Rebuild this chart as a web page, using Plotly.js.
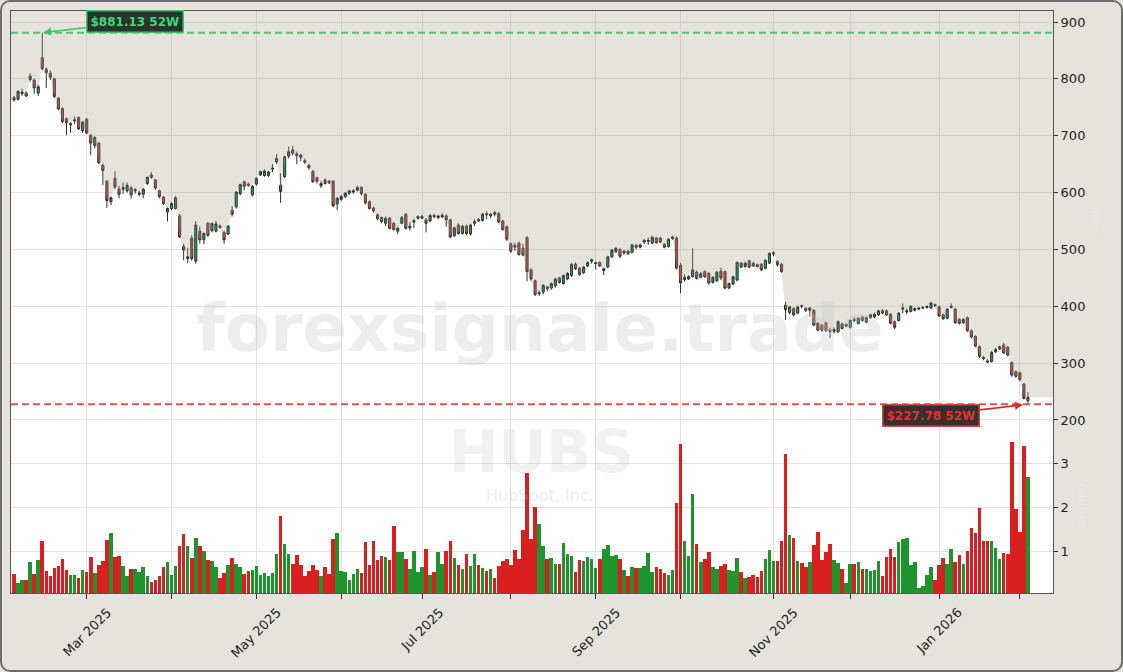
<!DOCTYPE html>
<html>
<head>
<meta charset="utf-8">
<script src="https://cdn.plot.ly/plotly-3.0.1.min.js"></script>
<style>
  html, body { margin: 0; padding: 0; background: #e6e3dd; }
  #wrap { position: relative; width: 1123px; height: 672px; overflow: hidden; }
  #chart { position: absolute; left: 0; top: 0; width: 1123px; height: 672px; }
  #frame { position: absolute; left: 0; top: 0; width: 1123px; height: 672px; box-sizing: border-box;
           border: 2px solid #6e6e6e; border-radius: 10px; pointer-events: none; }
</style>
</head>
<body>
<div id="wrap"><div id="chart"></div><div id="frame"></div></div>
<script>
// ---------------- DATA (HUBS daily, Feb 2025 - Feb 2026) ----------------
const symbol = "HUBS";
const companyName = "HubSpot, Inc.";
const firstDay = "2025-02-04";
const lastDay = "2026-02-04";
const marketHolidays = ["2025-02-17","2025-04-18","2025-05-26","2025-06-19","2025-07-04",
  "2025-09-01","2025-11-27","2025-12-25","2026-01-01","2026-01-19"];

const openPx = [
  767,764,774,775,799,798,775,837,817,810,
  800,766,748,730,719,726,732,709,729,700,
  683,687,648,620,584,625,606,606,603,608,
  603,597,597,616,631,622,603,592,566,572,
  572,559,505,484,520,479,532,517,546,533,
  532,541,530,527,569,575,598,619,615,596,
  615,631,630,630,641,654,613,628,664,675,
  668,666,656,648,637,626,612,622,620,620,
  580,588,593,599,601,604,609,597,584,573,
  561,556,546,555,546,532,546,562,538,548,
  555,555,552,550,560,556,557,559,552,524,
  543,528,541,527,546,553,551,563,559,565,
  563,550,540,510,507,511,502,521,464,445,
  422,425,434,432,436,450,440,448,454,474,
  467,459,471,479,475,477,463,469,487,496,
  500,494,497,495,507,504,513,514,511,520,
  520,509,505,519,520,472,447,448,452,460,
  451,461,458,442,445,462,461,432,439,446,
  476,470,480,476,473,474,467,476,492,479,
  474,402,389,396,388,401,396,393,393,370,
  367,371,358,356,355,369,365,363,377,370,
  381,372,380,381,385,392,392,386,373,375,
  395,390,391,393,395,397,398,397,403,399,
  385,379,398,395,377,371,380,357,347,329,
  310,304,303,320,325,332,328,301,285,283,
  263,234];
const highPx = [
  770,780,783,778,810,800,790,881.13,820,815,
  802,768,750,732,724,734,734,726,731,703,
  699,689,651,622,593,637,612,618,618,612,
  608,603,608,628,636,624,605,594,574,583,
  594,562,510,503,525,550,540,530,548,547,
  550,544,533,543,576,603,616,621,618,613,
  627,639,641,638,650,668,634,665,681,682,
  672,668,660,650,640,628,620,625,622,622,
  592,596,601,605,606,612,611,599,586,575,
  563,558,558,557,548,540,559,564,548,554,
  560,561,555,562,563,561,564,562,554,540,
  546,543,544,545,553,555,564,567,564,568,
  566,552,542,512,512,514,510,523,467,447,
  428,439,436,442,450,452,456,460,476,477,
  469,471,479,484,478,479,468,489,501,504,
  502,499,499,510,510,510,518,521,524,522,
  522,511,520,524,523,476,456,455,502,463,
  460,463,460,453,462,468,463,442,454,479,
  478,478,482,478,475,476,483,495,497,481,
  476,408,401,398,401,403,398,399,395,372,
  369,373,362,363,375,371,370,377,381,381,
  383,382,387,389,394,395,394,388,375,390,
  405,396,402,398,398,400,401,408,405,401,
  387,397,405,397,379,379,382,359,349,331,
  313,307,321,327,331,336,330,303,287,285,
  265,249];
const lowPx = [
  760,762,770,768,795,774,770,815,784,798,
  766,745,722,701,705,720,710,705,703,666,
  678,650,613,573,578,606,590,598,600,590,
  598,594,590,613,624,605,590,578,549,569,
  570,520,481,476,480,475,510,509,522,530,
  530,536,510,525,558,572,595,604,610,593,
  612,629,628,627,636,650,582,625,660,665,
  650,655,650,640,617,616,608,614,615,574,
  569,585,590,596,598,602,595,579,570,565,
  551,546,541,535,533,527,544,535,533,538,
  552,553,530,548,555,553,555,540,520,522,
  526,526,525,525,541,548,549,553,555,558,
  546,533,515,494,497,489,488,444,445,418,
  418,421,427,429,433,440,438,446,452,464,
  454,457,469,475,465,469,455,467,485,494,
  485,491,490,493,500,502,510,508,509,510,
  511,502,503,517,465,423,443,446,450,447,
  449,450,438,440,443,446,430,430,437,444,
  467,468,467,469,468,462,465,474,488,470,
  459,376,386,382,386,396,390,382,365,356,
  355,355,344,352,353,359,363,361,372,368,
  373,370,378,379,383,386,383,368,360,373,
  388,386,389,391,393,395,396,395,399,381,
  376,377,396,369,368,369,355,343,328,309,
  305,300,301,318,323,316,312,276,274,268,
  236,227.78];
const closePx = [
  763,778,777,770,805,784,786,818,811,803,
  769,747,725,723,721,728,712,724,705,687,
  697,652,639,586,591,610,597,609,613,596,
  605,599,606,627,627,608,593,581,572,581,
  591,522,499,487,484,543,517,528,525,546,
  545,539,517,541,562,601,614,611,613,611,
  625,637,638,636,643,660,602,663,672,669,
  665,662,654,644,619,620,616,616,617,577,
  590,593,599,603,603,609,598,582,572,568,
  554,549,555,537,535,537,556,537,541,551,
  558,558,546,560,558,559,560,552,522,538,
  528,541,528,543,549,550,562,561,562,562,
  548,535,518,497,504,491,490,461,448,421,
  424,437,431,440,448,442,454,458,474,466,
  456,469,477,482,477,471,466,487,499,502,
  488,497,493,508,504,508,516,516,522,512,
  513,504,518,522,467,441,451,452,464,449,
  457,452,441,451,460,450,432,440,452,477,
  469,476,469,471,470,464,481,493,494,473,
  461,394,399,385,399,400,393,397,367,358,
  358,357,356,359,373,361,368,375,375,379,
  375,380,385,386,392,388,385,370,363,388,
  397,392,400,396,397,398,400,406,401,383,
  378,395,400,371,370,377,357,346,330,312,
  308,302,319,324,329,318,314,279,277,271,
  238,240];
// volume in millions of shares
const volumeM = [
  0.50,0.30,0.37,0.37,0.77,0.50,0.81,1.24,0.56,0.44,
  0.64,0.68,0.84,0.59,0.47,0.47,0.41,0.59,0.54,0.87,
  0.52,0.70,0.79,1.27,1.42,0.87,0.90,0.68,0.45,0.61,
  0.61,0.55,0.65,0.45,0.31,0.37,0.45,0.66,0.77,0.47,
  0.68,1.13,1.39,1.13,0.85,1.30,1.14,1.02,0.81,0.79,
  0.65,0.41,0.52,0.70,0.86,0.72,0.65,0.50,0.56,0.59,
  0.68,0.47,0.52,0.45,0.52,0.95,1.81,1.17,0.95,0.72,
  0.93,0.70,0.45,0.56,0.70,0.59,0.45,0.65,0.50,1.29,
  1.42,0.56,0.54,0.36,0.50,0.61,0.52,1.22,0.70,1.24,
  0.81,0.90,0.87,0.81,1.58,1.00,1.00,0.83,0.61,1.02,
  0.54,0.65,1.06,0.47,0.54,1.00,0.72,1.02,1.24,0.86,
  0.70,0.61,0.95,0.68,0.95,0.70,0.63,0.56,0.61,0.41,
  0.68,0.79,0.84,0.70,1.04,0.84,1.49,2.77,1.29,2.00,
  1.63,1.13,0.84,0.86,0.72,0.72,1.20,0.95,0.90,0.54,
  0.81,0.79,0.88,0.83,0.63,0.83,1.06,1.15,0.90,0.93,
  0.83,0.59,0.45,0.65,0.63,0.63,0.68,0.97,0.54,0.65,
  0.61,0.52,0.47,0.59,2.10,3.44,1.24,0.90,2.31,1.17,
  0.77,0.84,1.00,0.65,0.61,0.68,0.72,0.59,0.56,0.86,
  0.54,0.41,0.43,0.47,0.43,0.56,0.84,1.04,0.79,0.79,
  1.24,3.21,1.38,1.31,0.79,0.74,0.65,0.77,1.15,1.45,
  0.81,0.99,1.17,0.81,0.74,0.61,0.29,0.72,0.72,0.77,
  0.61,0.61,0.56,0.59,0.79,0.45,0.88,1.06,0.88,1.22,
  1.29,1.31,0.70,0.77,0.18,0.22,0.47,0.65,0.36,0.70,
  0.86,0.72,1.06,0.77,0.93,0.72,1.02,1.54,1.42,1.99,
  1.24,1.24,1.24,1.08,0.84,0.97,0.95,3.48,1.97,1.45,
  3.39,2.69];
const priceTicks = [200,300,400,500,600,700,800,900];
const volumeTicks = [1,2,3];
const monthNames = ["Jan","Feb","Mar","Apr","May","Jun","Jul","Aug","Sep","Oct","Nov","Dec"];

// ---------------- helpers ----------------
function tradingDays(start, end, holidays) {
  const out = [];
  const d = new Date(start + "T00:00:00Z");
  const e = new Date(end + "T00:00:00Z");
  while (d <= e) {
    const w = d.getUTCDay();
    const s = d.toISOString().slice(0, 10);
    if (w !== 0 && w !== 6 && !holidays.includes(s)) out.push(s);
    d.setUTCDate(d.getUTCDate() + 1);
  }
  return out;
}
const dates = tradingDays(firstDay, lastDay, marketHolidays).slice(0, closePx.length);
const idx = closePx.map((_, i) => i);

// month ticks: first trading day of each month
const monthTickIdx = [], monthTickLabel = [];
for (let i = 1; i < dates.length; i++) {
  if (dates[i].slice(5, 7) !== dates[i - 1].slice(5, 7)) {
    monthTickIdx.push(i);
    const m = parseInt(dates[i].slice(5, 7), 10) - 1;
    monthTickLabel.push(monthNames[m] + " " + dates[i].slice(0, 4));
  }
}

const X_RANGE = [-0.74, 257.2];
const Y_RANGE = [-104.3, 919.35];
const V_RANGE = [0.066, 13.23];

const high52 = Math.max(...highPx);
const low52 = Math.min(...lowPx);
const hiIdx = highPx.indexOf(high52);
const loIdx = lowPx.indexOf(low52);

const upColor = "#2e9e5e", dnColor = "#c42a2a";
const volUp = "#1e932e", volDn = "#d91f1f";
const volColors = closePx.map((c, i) => c >= openPx[i] ? volUp : volDn);

// fill region above the close line
const fx = [X_RANGE[0], ...idx, X_RANGE[1]];
const fyClose = [closePx[0], ...closePx, closePx[closePx.length - 1]];
const fyTop = fx.map(() => Y_RANGE[1]);

const traces = [
  { x: fx, y: fyTop, type: "scatter", mode: "lines", line: { width: 0 }, hoverinfo: "skip", showlegend: false, yaxis: "y" },
  { x: fx, y: fyClose, type: "scatter", mode: "lines", line: { width: 0 }, fill: "tonexty",
    fillcolor: "rgba(172,162,142,0.30)", hoverinfo: "skip", showlegend: false, yaxis: "y" },
  { x: idx, open: openPx, high: highPx, low: lowPx, close: closePx, type: "candlestick",
    increasing: { line: { color: "#2f2f2f", width: 1 }, fillcolor: upColor },
    decreasing: { line: { color: "#2f2f2f", width: 1 }, fillcolor: dnColor },
    whiskerwidth: 0, showlegend: false, yaxis: "y", xaxis: "x" },
  { x: idx, y: volumeM, type: "bar", marker: { color: volColors, line: { width: 0 } },
    width: 0.88, showlegend: false, yaxis: "y2", xaxis: "x" }
];

const FONT = "DejaVu Sans, Verdana, sans-serif";
const annotations = [
  { text: "forexsignale.trade", xref: "paper", yref: "paper", x: 0.5077, y: 0.455, showarrow: false,
    font: { family: FONT, size: 66, color: "rgba(190,190,190,0.28)", weight: "bold" }, xanchor: "center", yanchor: "middle" },
  { text: "<b>" + symbol + "</b>", xref: "paper", yref: "paper", x: 0.509, y: 0.243, showarrow: false,
    font: { family: FONT, size: 59, color: "rgba(190,190,190,0.22)" }, xanchor: "center", yanchor: "middle", borderpad: 0 },
  { text: companyName, xref: "paper", yref: "paper", x: 0.508, y: 0.167, showarrow: false,
    font: { family: FONT, size: 16, color: "rgba(190,190,190,0.30)" }, xanchor: "center", yanchor: "middle", borderpad: 0 },
  { text: "<b>$" + high52.toFixed(2) + " 52W</b>", x: hiIdx, y: high52, xref: "x", yref: "y",
    showarrow: true, ax: 93, ay: -11, arrowhead: 2, arrowsize: 1, arrowwidth: 1.6, arrowcolor: "#3cc46a", standoff: 1,
    font: { family: FONT, size: 12, color: "#45d677" }, bgcolor: "rgba(22,38,28,0.92)",
    bordercolor: "#3cc46a", borderwidth: 1.5, borderpad: 3 },
  { text: "<b>$" + low52.toFixed(2) + " 52W</b>", x: loIdx, y: low52, xref: "x", yref: "y",
    showarrow: true, ax: -96.5, ay: 11.3, arrowhead: 2, arrowsize: 1, arrowwidth: 1.6, arrowcolor: "#e02a2a", standoff: 5,
    font: { family: FONT, size: 12, color: "#e8302e" }, bgcolor: "rgba(40,28,28,0.92)",
    bordercolor: "#e04040", borderwidth: 1.5, borderpad: 3 },
  { text: "Price", xref: "paper", yref: "paper", x: 1.048, y: 0.64, showarrow: false, textangle: 90,
    font: { family: FONT, size: 12, color: "rgba(255,255,255,0.22)" } },
  { text: "Volume", xref: "paper", yref: "paper", x: 1.038, y: 0.11, showarrow: false, textangle: 90,
    font: { family: FONT, size: 13, color: "rgba(255,255,255,0.22)" } }
];
// month labels (every other month), centered under the tick like matplotlib
monthTickIdx.forEach((t, k) => {
  if (k % 2 === 0) {
    annotations.push({ text: monthTickLabel[k], x: t, xref: "x", yref: "paper", y: -0.018,
      showarrow: false, textangle: -45, xanchor: "center", yanchor: "top", borderpad: 0,
      font: { family: FONT, size: 13, color: "#222" } });
  }
});

const layout = {
  width: 1123, height: 672,
  margin: { l: 11, r: 70, t: 11, b: 79, pad: 0 },
  paper_bgcolor: "rgba(0,0,0,0)", plot_bgcolor: "#ffffff",
  font: { family: FONT, size: 13, color: "#222" },
  showlegend: false, boxgap: 0.25, bargap: 0,
  xaxis: { range: X_RANGE, tickmode: "array", tickvals: monthTickIdx, ticktext: monthTickIdx.map(() => ""),
    showticklabels: false, ticks: "outside", ticklen: 5, tickcolor: "#333", tickwidth: 1,
    showgrid: true, gridcolor: "#e2e2e2", gridwidth: 1, zeroline: false,
    showline: true, mirror: true, linecolor: "#555", linewidth: 1, rangeslider: { visible: false }, fixedrange: true },
  yaxis: { range: Y_RANGE, side: "right", tickmode: "array", tickvals: priceTicks, ticks: "outside", ticklen: 4,
    tickcolor: "#333", tickfont: { size: 13, color: "#222" }, showgrid: true, gridcolor: "#e2e2e2", zeroline: false,
    showline: true, mirror: true, linecolor: "#555", linewidth: 1, fixedrange: true },
  yaxis2: { range: V_RANGE, overlaying: "y", side: "right", anchor: "x", tickmode: "array", tickvals: volumeTicks,
    ticks: "outside", ticklen: 4, tickcolor: "#333", tickfont: { size: 13, color: "#222" },
    showgrid: true, gridcolor: "#e2e2e2", zeroline: false, showline: false, fixedrange: true },
  shapes: [
    { type: "line", xref: "paper", x0: 0, x1: 1, yref: "y", y0: high52, y1: high52,
      line: { color: "#4cc775", width: 2, dash: "7px,4px" } },
    { type: "line", xref: "paper", x0: 0, x1: 1, yref: "y", y0: low52, y1: low52,
      line: { color: "#dc5555", width: 2, dash: "7px,4px" } }
  ],
  annotations: annotations
};

Plotly.newPlot("chart", traces, layout, { displayModeBar: false, staticPlot: true });
</script>
</body>
</html>
